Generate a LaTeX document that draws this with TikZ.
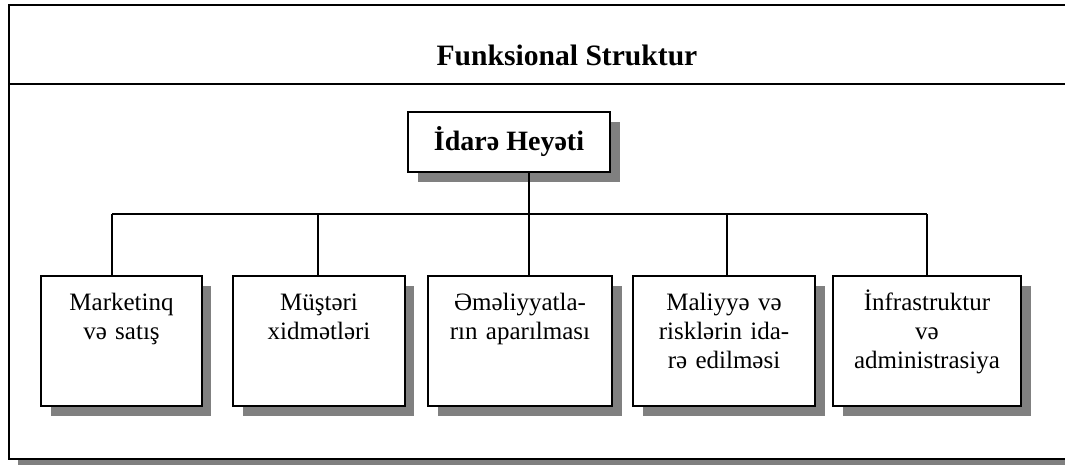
\documentclass[tikz,border=0pt]{standalone}
\usepackage{fontspec}
\setmainfont{Liberation Serif}
\begin{document}
\begin{tikzpicture}[x=1pt,y=-1pt,
  shadowfill/.style={fill=black!50,draw=none},
  frame/.style={draw=black,line width=2pt},
  unitbox/.style={draw=black,line width=2pt,fill=white,rectangle,inner sep=0pt},
  link/.style={draw=black,line width=1.5pt},
  unittext/.style={inner sep=0pt,anchor=base,text width=190pt,align=center,font=\fontsize{25}{29}\selectfont}
]
\useasboundingbox (0,0) rectangle (1065,464);
\clip (0,0) rectangle (1065,464);
% outer frame
\fill[shadowfill] (18,14) rectangle (1090,468);
\filldraw[frame,fill=white] (9,5) rectangle (1080,459);
\coordinate (dl) at (9,84);
\coordinate (dr) at (1080,84);
\draw[frame] (dl) -- (dr);
\node[font=\fontsize{29.6}{34}\selectfont\bfseries,anchor=base] (title) at (567,65) {Funksional Struktur};
% board
\fill[shadowfill] (418,122) rectangle (620,182);
\node[unitbox,minimum width=202pt,minimum height=60pt,font=\fontsize{28}{32}\selectfont\bfseries] (boss) at (509,142) {İdarə Heyəti};
% junction line
\coordinate (j) at (529,214);
\coordinate (d1) at (112,214);
\coordinate (d2) at (318,214);
\coordinate (d4) at (727,214);
\coordinate (d5) at (927,214);
% child shadows
\fill[shadowfill] (51,286) rectangle (211,416);
\fill[shadowfill] (243,286) rectangle (414,416);
\fill[shadowfill] (438,286) rectangle (622,416);
\fill[shadowfill] (643,286) rectangle (825,416);
\fill[shadowfill] (843,286) rectangle (1031,416);
% child boxes
\node[unitbox,minimum width=161pt,minimum height=130pt] (c1) at (121.5,341) {};
\node[unitbox,minimum width=172pt,minimum height=130pt] (c2) at (319,341) {};
\node[unitbox,minimum width=184pt,minimum height=130pt] (c3) at (520,341) {};
\node[unitbox,minimum width=182pt,minimum height=130pt] (c4) at (724,341) {};
\node[unitbox,minimum width=188pt,minimum height=130pt] (c5) at (927,341) {};
% texts
\node[unittext] (t1) at (121.5,310) {Marketinq\\və satış};
\node[unittext] (t2) at (319,310) {Müştəri\\xidmətləri};
\node[unittext] (t3) at (520,310) {Əməliyyatla-\\rın aparılması};
\node[unittext] (t4) at (724,310) {Maliyyə və\\risklərin ida-\\rə edilməsi};
\node[unittext] (t5) at (927,310) {İnfrastruktur\\və\\administrasiya};
% connectors
\draw[link] (boss.south -| j) -- (j);
\draw[link] (d1) -- (d5);
\draw[link] (d1) -- (d1 |- c1.north);
\draw[link] (d2) -- (d2 |- c2.north);
\draw[link] (j) -- (j |- c3.north);
\draw[link] (d4) -- (d4 |- c4.north);
\draw[link] (d5) -- (d5 |- c5.north);
\end{tikzpicture}
\end{document}
